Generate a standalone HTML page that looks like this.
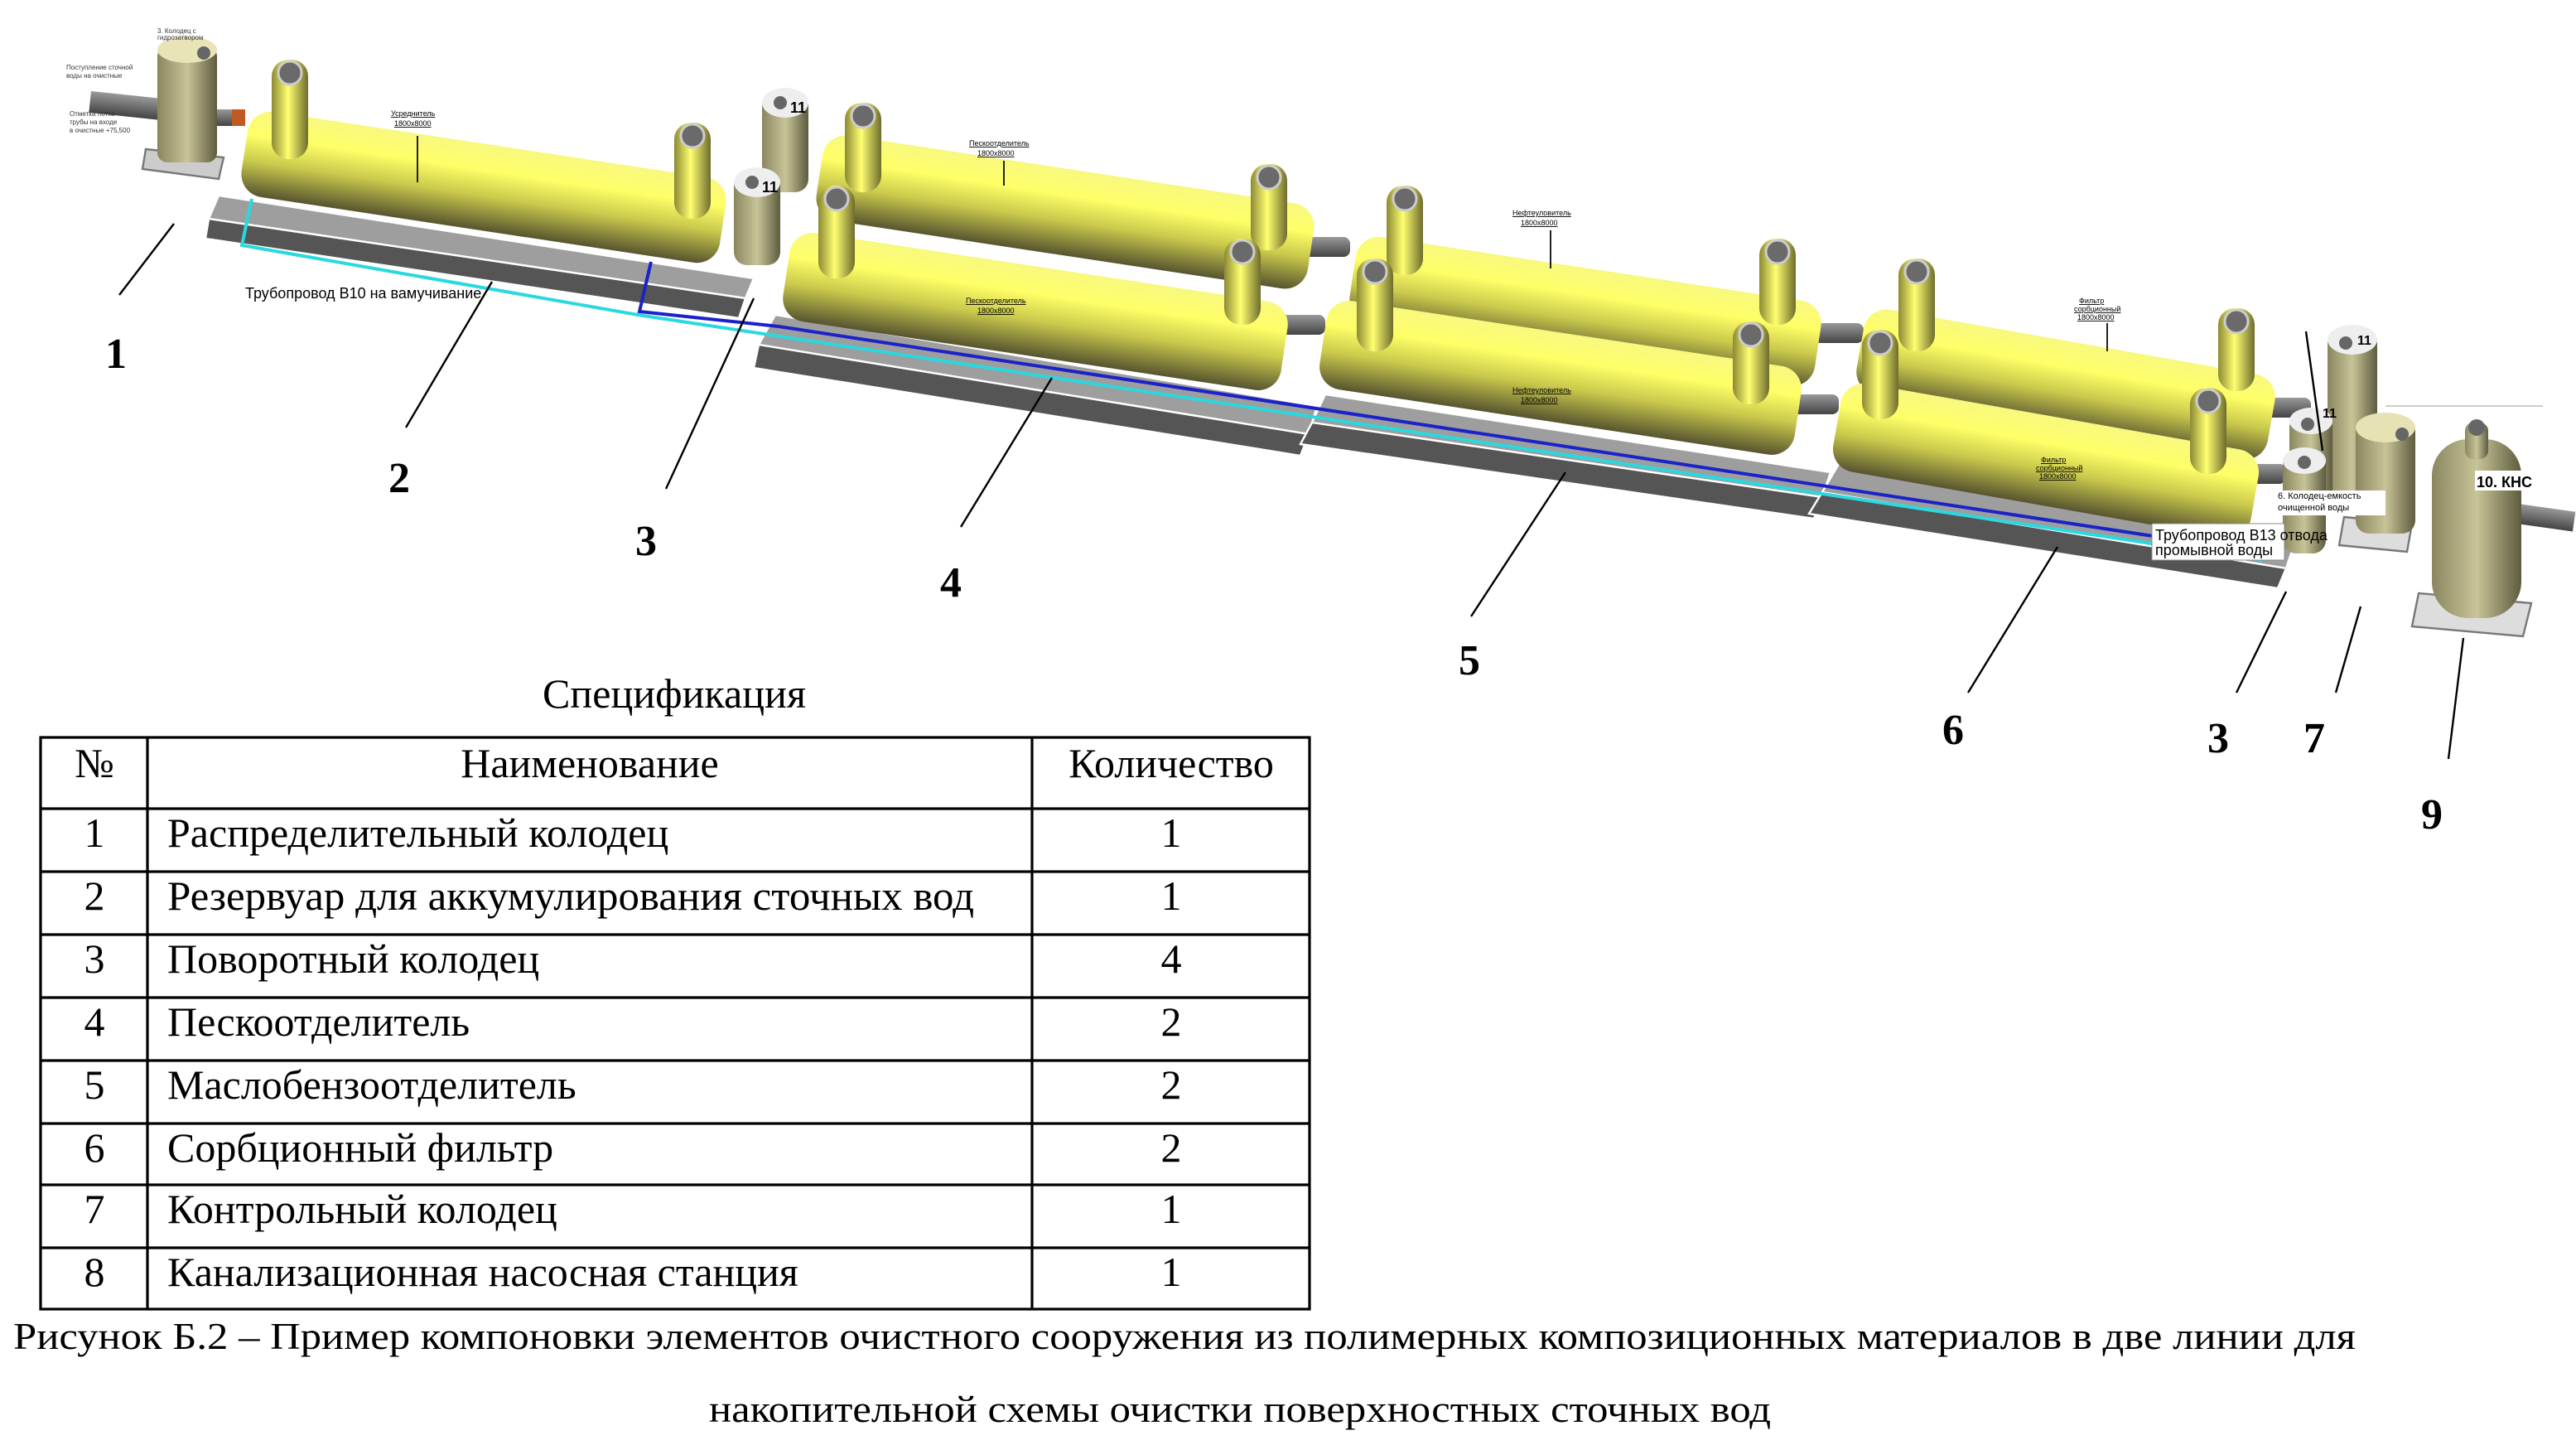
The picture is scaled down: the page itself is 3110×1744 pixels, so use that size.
<!DOCTYPE html>
<html><head><meta charset="utf-8"><style>html,body{margin:0;padding:0;background:#fff}svg{display:block}</style></head>
<body>
<svg width="3110" height="1744" viewBox="0 0 1555 872" xmlns="http://www.w3.org/2000/svg">
<defs>
<linearGradient id="ty" x1="0" y1="0" x2="0" y2="1">
<stop offset="0" stop-color="#f8f880"/><stop offset="0.3" stop-color="#ffff68"/><stop offset="0.6" stop-color="#caca4c"/><stop offset="1" stop-color="#575430"/></linearGradient>
<linearGradient id="ry" x1="0" y1="0" x2="1" y2="0">
<stop offset="0" stop-color="#8c8a34"/><stop offset="0.45" stop-color="#ffff70"/><stop offset="1" stop-color="#6e6c2c"/></linearGradient>
<linearGradient id="wg" x1="0" y1="0" x2="1" y2="0">
<stop offset="0" stop-color="#8a8660"/><stop offset="0.5" stop-color="#c8c498"/><stop offset="1" stop-color="#5e5b40"/></linearGradient>
<linearGradient id="pg" x1="0" y1="0" x2="0" y2="1">
<stop offset="0" stop-color="#999"/><stop offset="1" stop-color="#444"/></linearGradient>
</defs>

<g stroke="#fff" stroke-width="1.2">
<polygon points="132,118 455,168 450,180 126,132" fill="#9e9e9e"/>
<polygon points="126,132 450,180 446,192 124,144" fill="#555"/>
<polygon points="468,190 795,245 790,262 458,208" fill="#9e9e9e"/>
<polygon points="458,208 790,262 785,275 455,222" fill="#555"/>
<polygon points="800,238 1105,285 1100,300 792,255" fill="#9e9e9e"/>
<polygon points="792,255 1100,300 1095,313 785,268" fill="#555"/>
<polygon points="1110,280 1385,328 1380,343 1100,297" fill="#9e9e9e"/>
<polygon points="1100,297 1380,343 1375,355 1092,310" fill="#555"/>
<polygon points="88,90 135,95 132,108 86,102" fill="#ccc" stroke="#777"/>
<polygon points="1415,312 1456,316 1453,333 1412,329" fill="#ddd" stroke="#777"/>
<polygon points="1460,358 1528,364 1523,384 1456,378" fill="#ddd" stroke="#777"/>
</g>

<polyline points="152,120 146,148 385,190 1365,338 1367,325" fill="none" stroke="#2ad8e0" stroke-width="2"/>
<polyline points="393,158 386,188 470,197 1362,333" fill="none" stroke="#1a22c8" stroke-width="2"/>
<rect x="55" y="55" width="42" height="13" fill="url(#pg)" transform="rotate(6 55 55)"/>
<rect x="128" y="66" width="20" height="10" fill="url(#pg)"/>
<rect x="140" y="66" width="8" height="10" fill="#c05a20"/>
<rect x="1520" y="304" width="35" height="12" fill="url(#pg)" transform="rotate(8 1520 304)"/>
<line x1="1440" y1="245" x2="1535" y2="245" stroke="#bbb" stroke-width="0.8"/>
<rect x="785" y="143" width="30" height="12" fill="url(#pg)" rx="4"/>
<rect x="770" y="190" width="30" height="12" fill="url(#pg)" rx="4"/>
<rect x="1095" y="195" width="30" height="12" fill="url(#pg)" rx="4"/>
<rect x="1080" y="238" width="30" height="12" fill="url(#pg)" rx="4"/>
<rect x="1365" y="240" width="30" height="12" fill="url(#pg)" rx="4"/>
<rect x="1350" y="280" width="30" height="12" fill="url(#pg)" rx="4"/>

<rect x="95" y="28" width="36" height="70" rx="6" fill="url(#wg)"/>
<ellipse cx="113" cy="30" rx="18" ry="8" fill="#e8e4b8"/>
<circle cx="123" cy="32" r="4" fill="#666"/>
<text x="40" y="42" font-family="Liberation Sans" font-size="4" fill="#333">Поступление сточной</text>
<text x="40" y="47" font-family="Liberation Sans" font-size="4" fill="#333">воды на очистные</text>
<text x="42" y="70" font-family="Liberation Sans" font-size="4" fill="#333">Отметка лотка</text>
<text x="42" y="75" font-family="Liberation Sans" font-size="4" fill="#333">трубы на входе</text>
<text x="42" y="80" font-family="Liberation Sans" font-size="4" fill="#333">в очистные +75,500</text>
<text x="95" y="20" font-family="Liberation Sans" font-size="4" fill="#333">3. Колодец с</text>
<text x="95" y="24" font-family="Liberation Sans" font-size="4" fill="#333">гидрозатвором</text>

<rect x="460" y="56" width="28" height="60" rx="8" fill="url(#wg)"/>
<ellipse cx="474" cy="62" rx="14" ry="9" fill="#eee"/><circle cx="471" cy="62" r="4" fill="#666"/>
<text x="477" y="68" font-family="Liberation Sans" font-weight="bold" font-size="9">11</text>

<g transform="translate(292,113) rotate(8.6)"><rect x="-146" y="-26" width="292" height="52" rx="14" fill="url(#ty)"/></g>
<line x1="252" y1="82" x2="252" y2="110" stroke="#222" stroke-width="1"/>
<text x="236" y="70" font-family="Liberation Sans" font-size="4.5" text-decoration="underline">Усреднитель</text>
<text x="238" y="76" font-family="Liberation Sans" font-size="4.5" text-decoration="underline">1800х8000</text>

<rect x="443" y="104" width="28" height="56" rx="8" fill="url(#wg)"/>
<ellipse cx="457" cy="110" rx="14" ry="9" fill="#eee"/><circle cx="454" cy="110" r="4" fill="#666"/>
<text x="460" y="116" font-family="Liberation Sans" font-weight="bold" font-size="9">11</text>

<g transform="translate(643,128) rotate(8.6)"><rect x="-150" y="-26" width="300" height="52" rx="14" fill="url(#ty)"/></g>
<g transform="translate(957,188) rotate(8.6)"><rect x="-142" y="-26" width="284" height="52" rx="14" fill="url(#ty)"/></g>
<g transform="translate(1247,232) rotate(10)"><rect x="-126" y="-26" width="252" height="52" rx="14" fill="url(#ty)"/></g>

<g fill="url(#ry)">
<rect x="164" y="36" width="22" height="60" rx="10"/>
<rect x="407" y="74" width="22" height="58" rx="10"/>
<rect x="510" y="62" width="22" height="54" rx="10"/>
<rect x="755" y="99" width="22" height="52" rx="10"/>
<rect x="837" y="112" width="22" height="54" rx="10"/>
<rect x="1062" y="144" width="22" height="52" rx="10"/>
<rect x="1146" y="156" width="22" height="56" rx="10"/>
<rect x="1339" y="186" width="22" height="50" rx="10"/>
</g>
<g fill="#6a6a6a" stroke="#ccc" stroke-width="1.5">
<circle cx="175" cy="44" r="7"/><circle cx="418" cy="82" r="7"/><circle cx="521" cy="70" r="7"/><circle cx="766" cy="107" r="7"/>
<circle cx="848" cy="120" r="7"/><circle cx="1073" cy="152" r="7"/><circle cx="1157" cy="164" r="7"/><circle cx="1350" cy="194" r="7"/>
</g>

<g transform="translate(625,188) rotate(8.6)"><rect x="-152" y="-27" width="304" height="54" rx="14" fill="url(#ty)"/></g>
<g transform="translate(942,228) rotate(8.6)"><rect x="-145" y="-27" width="290" height="54" rx="14" fill="url(#ty)"/></g>
<g transform="translate(1235,278) rotate(10)"><rect x="-128" y="-27" width="256" height="54" rx="14" fill="url(#ty)"/></g>

<g fill="url(#ry)">
<rect x="494" y="112" width="22" height="56" rx="10"/>
<rect x="739" y="144" width="22" height="52" rx="10"/>
<rect x="819" y="156" width="22" height="56" rx="10"/>
<rect x="1046" y="194" width="22" height="50" rx="10"/>
<rect x="1124" y="199" width="22" height="54" rx="10"/>
<rect x="1322" y="234" width="22" height="52" rx="10"/>
</g>
<g fill="#6a6a6a" stroke="#ccc" stroke-width="1.5">
<circle cx="505" cy="120" r="7"/><circle cx="750" cy="152" r="7"/><circle cx="830" cy="164" r="7"/>
<circle cx="1057" cy="202" r="7"/><circle cx="1135" cy="207" r="7"/><circle cx="1333" cy="242" r="7"/>
</g>

<g font-family="Liberation Sans" font-size="4.5" text-decoration="underline">
<text x="585" y="88">Пескоотделитель</text><text x="590" y="94">1800х8000</text>
<text x="583" y="183">Пескоотделитель</text><text x="590" y="189">1800х8000</text>
<text x="913" y="130">Нефтеуловитель</text><text x="918" y="136">1800х8000</text>
<text x="913" y="237">Нефтеуловитель</text><text x="918" y="243">1800х8000</text>
<text x="1255" y="183">Фильтр</text><text x="1252" y="188">сорбционный</text><text x="1254" y="193">1800х8000</text>
<text x="1232" y="279">Фильтр</text><text x="1229" y="284">сорбционный</text><text x="1231" y="289">1800х8000</text>
</g>
<g stroke="#222" stroke-width="1"><line x1="606" y1="97" x2="606" y2="112"/><line x1="936" y1="139" x2="936" y2="162"/><line x1="1272" y1="195" x2="1272" y2="212"/></g>

<rect x="1405" y="198" width="30" height="112" rx="9" fill="url(#wg)"/>
<ellipse cx="1420" cy="205" rx="15" ry="9" fill="#eee"/><circle cx="1416" cy="207" r="4" fill="#666"/>
<text x="1423" y="208" font-family="Liberation Sans" font-weight="bold" font-size="8">11</text>
<rect x="1382" y="250" width="26" height="60" rx="8" fill="url(#wg)"/>
<ellipse cx="1395" cy="254" rx="13" ry="8" fill="#eee"/><circle cx="1393" cy="256" r="4" fill="#666"/>
<text x="1402" y="252" font-family="Liberation Sans" font-weight="bold" font-size="8">11</text>
<rect x="1378" y="272" width="26" height="62" rx="8" fill="url(#wg)"/>
<ellipse cx="1391" cy="278" rx="13" ry="8" fill="#eee"/><circle cx="1391" cy="279" r="4" fill="#666"/>
<rect x="1422" y="252" width="36" height="70" rx="8" fill="url(#wg)"/>
<ellipse cx="1440" cy="258" rx="18" ry="9" fill="#e6e2b4"/><circle cx="1450" cy="262" r="4" fill="#666"/>
<rect x="1468" y="265" width="54" height="108" rx="22" fill="url(#wg)"/>
<rect x="1488" y="255" width="14" height="22" rx="5" fill="url(#wg)"/><circle cx="1495" cy="258" r="5" fill="#666"/>
<rect x="1494" y="284" width="36" height="12" fill="#fff"/>
<text x="1495" y="294" font-family="Liberation Sans" font-weight="bold" font-size="9">10. КНС</text>
<rect x="1374" y="296" width="66" height="15" fill="#fff"/>
<text x="1375" y="301" font-family="Liberation Sans" font-size="5.5">6. Колодец-емкость</text>
<text x="1375" y="308" font-family="Liberation Sans" font-size="5.5">очищенной воды</text>
<rect x="1299" y="316" width="80" height="22" fill="#fff" stroke="#888" stroke-width="0.5"/>
<text x="1301" y="326" font-family="Liberation Sans" font-size="9">Трубопровод В13 отвода</text>
<text x="1301" y="335" font-family="Liberation Sans" font-size="9">промывной воды</text>
<text x="148" y="180" font-family="Liberation Sans" font-size="9">Трубопровод В10 на вамучивание</text>

<g stroke="#000" stroke-width="1.2">
<line x1="105" y1="135" x2="72" y2="178"/>
<line x1="297" y1="170" x2="245" y2="258"/>
<line x1="455" y1="180" x2="402" y2="295"/>
<line x1="635" y1="228" x2="580" y2="318"/>
<line x1="945" y1="285" x2="888" y2="372"/>
<line x1="1242" y1="330" x2="1188" y2="418"/>
<line x1="1380" y1="357" x2="1350" y2="418"/>
<line x1="1425" y1="366" x2="1410" y2="418"/>
<line x1="1487" y1="385" x2="1478" y2="458"/>
<line x1="1392" y1="200" x2="1402" y2="272"/>
</g>
<g font-family="Liberation Serif" font-weight="bold" font-size="26" text-anchor="middle">
<text x="70" y="222">1</text><text x="241" y="297">2</text><text x="390" y="335">3</text><text x="574" y="360">4</text>
<text x="887" y="407">5</text><text x="1179" y="449">6</text><text x="1339" y="454">3</text><text x="1397" y="454">7</text><text x="1468" y="500">9</text>
</g>

<g font-family="Liberation Serif" font-size="25">
<text x="407" y="427" text-anchor="middle" textLength="159" lengthAdjust="spacingAndGlyphs">Спецификация</text>
<g stroke="#000" stroke-width="1.6" fill="none">
<rect x="24.5" y="445" width="766" height="345"/>
<line x1="89" y1="445" x2="89" y2="790"/><line x1="623" y1="445" x2="623" y2="790"/>
<line x1="24" y1="488" x2="791" y2="488"/><line x1="24" y1="526" x2="791" y2="526"/>
<line x1="24" y1="564" x2="791" y2="564"/><line x1="24" y1="602" x2="791" y2="602"/>
<line x1="24" y1="640" x2="791" y2="640"/><line x1="24" y1="678" x2="791" y2="678"/>
<line x1="24" y1="715" x2="791" y2="715"/><line x1="24" y1="753" x2="791" y2="753"/>
</g>
<text x="57" y="469" text-anchor="middle">№</text>
<text x="356" y="469" text-anchor="middle">Наименование</text>
<text x="707" y="469" text-anchor="middle">Количество</text>
<g text-anchor="middle">
<text x="57" y="511">1</text><text x="57" y="549">2</text><text x="57" y="587">3</text><text x="57" y="625">4</text>
<text x="57" y="663">5</text><text x="57" y="701">6</text><text x="57" y="738">7</text><text x="57" y="776">8</text>
<text x="707" y="511">1</text><text x="707" y="549">1</text><text x="707" y="587">4</text><text x="707" y="625">2</text>
<text x="707" y="663">2</text><text x="707" y="701">2</text><text x="707" y="738">1</text><text x="707" y="776">1</text>
</g>
<text x="101" y="511">Распределительный колодец</text>
<text x="101" y="549" textLength="487" lengthAdjust="spacingAndGlyphs">Резервуар для аккумулирования сточных вод</text>
<text x="101" y="587">Поворотный колодец</text>
<text x="101" y="625">Пескоотделитель</text>
<text x="101" y="663">Маслобензоотделитель</text>
<text x="101" y="701">Сорбционный фильтр</text>
<text x="101" y="738">Контрольный колодец</text>
<text x="101" y="776">Канализационная насосная станция</text>
<text x="8" y="814" font-size="23" textLength="1414" lengthAdjust="spacingAndGlyphs">Рисунок Б.2 – Пример компоновки элементов очистного сооружения из полимерных композиционных материалов в две линии для</text>
<text x="428" y="858" font-size="23" textLength="641" lengthAdjust="spacingAndGlyphs">накопительной схемы очистки поверхностных сточных вод</text>
</g>
</svg>
</body></html>
